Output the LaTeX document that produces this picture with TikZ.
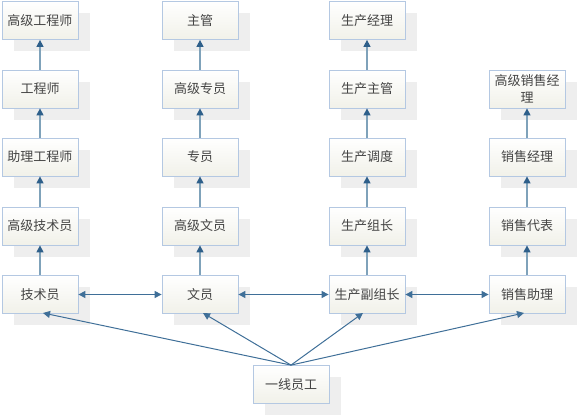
\documentclass[tikz,border=0pt]{standalone}
\usepackage{fontspec}
\newfontfamily\cjk{Noto Sans CJK SC}
\usetikzlibrary{arrows.meta,shadows}
\definecolor{boxb}{HTML}{B4C8E2}
\definecolor{boxf}{HTML}{F1F1E9}
\definecolor{shad}{HTML}{EEEEEE}
\definecolor{txt}{HTML}{444444}
\definecolor{vline}{HTML}{7FA2BA}
\definecolor{darrow}{HTML}{2E5F8A}
\definecolor{hline}{HTML}{3F6F98}
\tikzset{
  box/.style={draw=boxb, line width=0.8pt, top color=white, bottom color=boxf,
    minimum width=76pt, minimum height=38pt, inner sep=0pt, align=center,
    font=\cjk\fontsize{13}{17}\selectfont, text=txt,
    drop shadow={shadow xshift=12pt, shadow yshift=-12pt, fill=shad, opacity=1}},
  uparrow/.style={draw=vline, line width=1.4pt, -{Triangle[width=7pt,length=7pt,color=darrow]}},
  harrow/.style={draw=hline, line width=1.1pt, {Triangle[width=7pt,length=7pt]}-{Triangle[width=7pt,length=7pt]}},
  farrow/.style={draw=hline, line width=1pt, -{Triangle[width=7pt,length=7pt]}}
}
\begin{document}
\begin{tikzpicture}[x=1pt,y=-1pt]
\useasboundingbox (0,0) rectangle (579,419);
% column 1
\node[box] (a5) at (40,20.5) {高级工程师};
\node[box] (a4) at (40,89) {工程师};
\node[box] (a3) at (40,157) {助理工程师};
\node[box] (a2) at (40,226) {高级技术员};
\node[box] (a1) at (40,294.5) {技术员};
% column 2
\node[box] (b5) at (200,20.5) {主管};
\node[box] (b4) at (200,89) {高级专员};
\node[box] (b3) at (200,157) {专员};
\node[box] (b2) at (200,226) {高级文员};
\node[box] (b1) at (200,294.5) {文员};
% column 3
\node[box] (c5) at (367,20.5) {生产经理};
\node[box] (c4) at (367,89) {生产主管};
\node[box] (c3) at (367,157) {生产调度};
\node[box] (c2) at (367,226) {生产组长};
\node[box] (c1) at (367,294.5) {生产副组长};
% column 4
\node[box] (d4) at (527,89) {高级销售经\\理};
\node[box] (d3) at (527,157) {销售经理};
\node[box] (d2) at (527,226) {销售代表};
\node[box] (d1) at (527,294.5) {销售助理};
% bottom
\node[box] (e) at (291,384.5) {一线员工};
% vertical arrows
\foreach \c in {a,b,c}{
  \draw[uparrow] (\c1) -- (\c2);
  \draw[uparrow] (\c2) -- (\c3);
  \draw[uparrow] (\c3) -- (\c4);
  \draw[uparrow] (\c4) -- (\c5);
}
\draw[uparrow] (d1) -- (d2);
\draw[uparrow] (d2) -- (d3);
\draw[uparrow] (d3) -- (d4);
% horizontal double arrows
\draw[harrow] (a1) -- (b1);
\draw[harrow] (b1) -- (c1);
\draw[harrow] (c1) -- (d1);
% from bottom
\coordinate (ta) at (43,313);
\coordinate (tb) at (203,313);
\coordinate (tc) at (363,313);
\coordinate (td) at (524,313);
\draw[farrow] (e.north) -- (ta);
\draw[farrow] (e.north) -- (tb);
\draw[farrow] (e.north) -- (tc);
\draw[farrow] (e.north) -- (td);
\end{tikzpicture}
\end{document}
